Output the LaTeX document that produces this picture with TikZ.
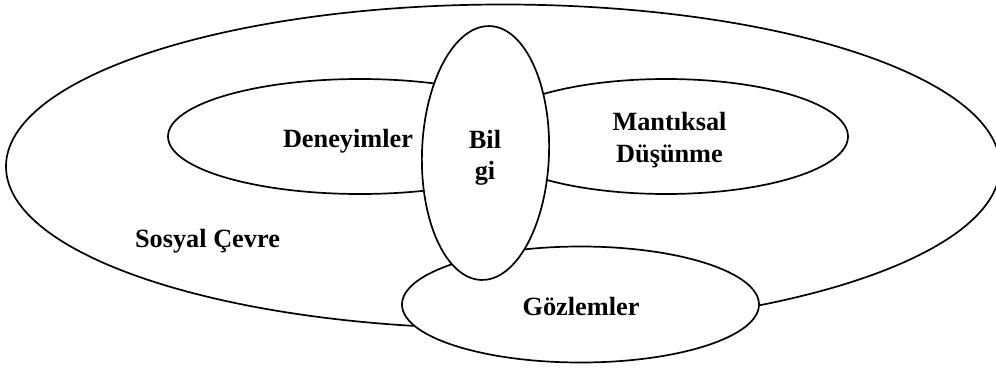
\documentclass[tikz,border=0pt]{standalone}
\usepackage{fontspec}
\setmainfont{Liberation Serif}
\usetikzlibrary{shapes.geometric}
\begin{document}
\begin{tikzpicture}[x=1pt,y=-1pt,
  blob/.style={ellipse, draw=black, fill=white, line width=1.7pt, inner sep=0pt, outer sep=0pt},
  lbl/.style={font=\bfseries\fontsize{26.3}{31.5}\selectfont, align=center, inner sep=0pt}]
\fill[white] (0,0) rectangle (996,372);
\useasboundingbox (0,0) rectangle (996,372);
% social environment, then the three sources, knowledge on top
\node[blob, minimum width=994pt, minimum height=324pt] (env) at (503,166.5) {};
\node[blob, minimum width=384pt, minimum height=115pt] (den) at (360,136.5) {};
\node[blob, minimum width=364pt, minimum height=115pt] (man) at (666,136.5) {};
\node[blob, minimum width=357pt, minimum height=116pt] (goz) at (580.5,304.5) {};
\node[blob, minimum width=127pt, minimum height=254pt, rotate=-2] (bil) at (485.5,153) {};
% labels
\node[lbl, anchor=base] (envT) at (207.5,247) {Sosyal Çevre};
\node[lbl, anchor=base] (denT) at (348,147) {Deneyimler};
\node[lbl, anchor=north] (manT) at (669.5,112.5) {Mantıksal\\Düşünme};
\node[lbl, anchor=base] (gozT) at (581,315) {Gözlemler};
\node[lbl, anchor=north] (bilT) at (485,130) {Bil\\gi};
\end{tikzpicture}
\end{document}
